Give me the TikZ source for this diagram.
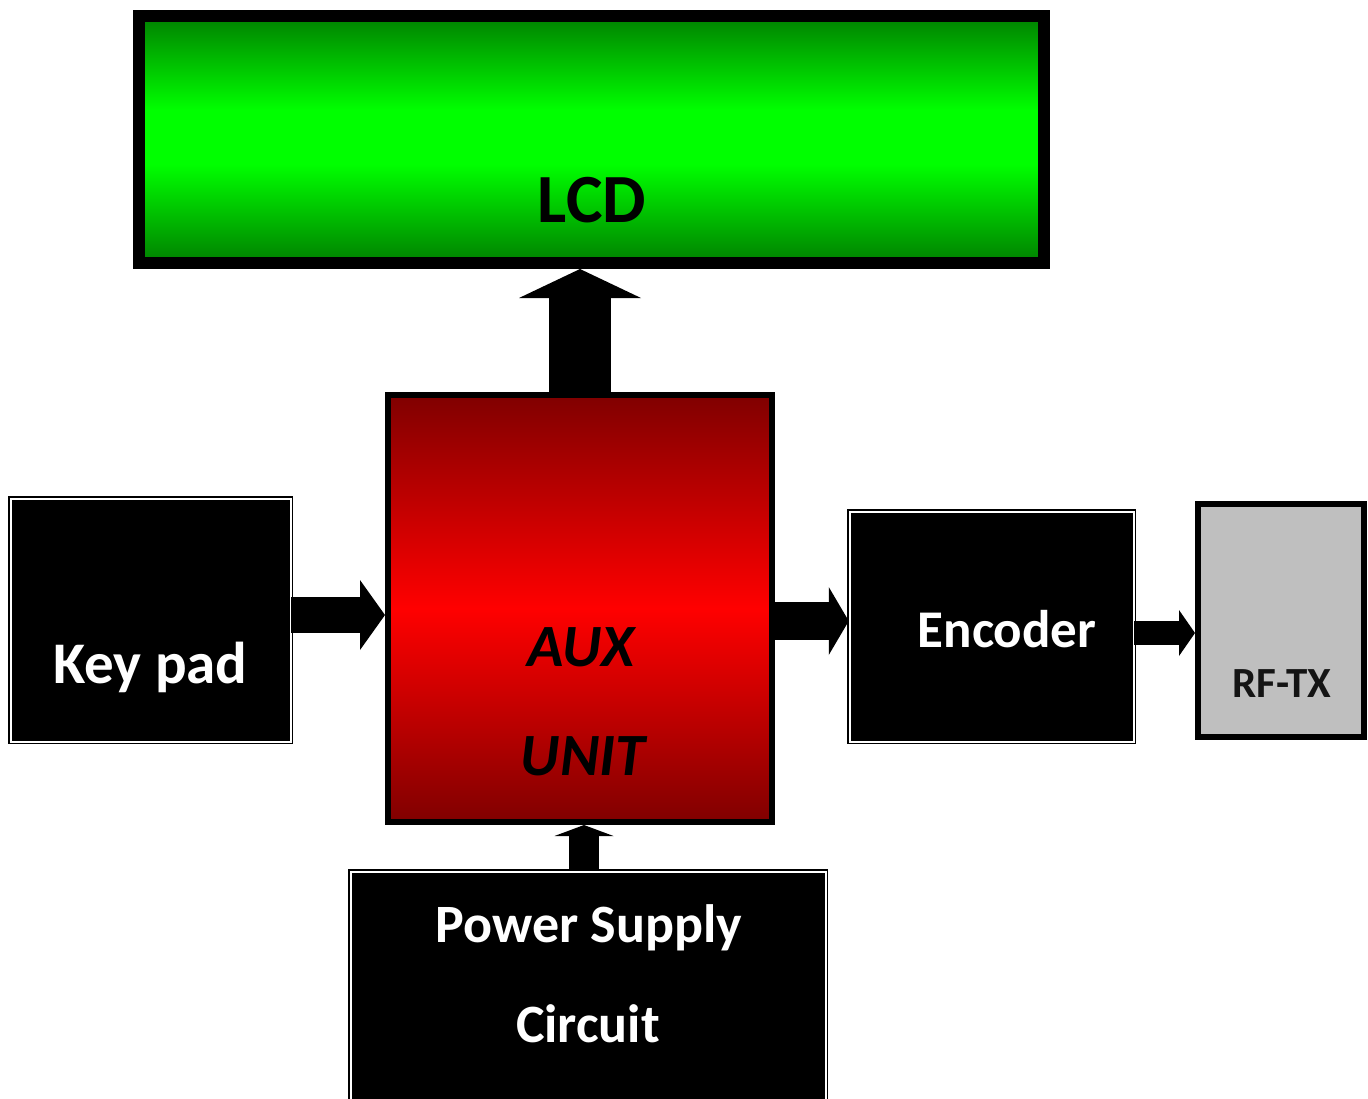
\documentclass[tikz,border=0pt]{standalone}
\usepackage{fontspec}
\setmainfont{Carlito}
\usetikzlibrary{arrows.meta}
\definecolor{dkgreen}{RGB}{0,128,0}
\definecolor{brgreen}{RGB}{0,255,0}
\definecolor{dkred}{RGB}{128,0,0}
\definecolor{brred}{RGB}{255,0,0}
\definecolor{rfgrey}{RGB}{191,191,191}
\definecolor{txtdark}{RGB}{20,20,20}
\pgfdeclareverticalshading{lcdshade}{100bp}{color(0bp)=(dkgreen); color(25bp)=(dkgreen); color(45bp)=(brgreen); color(56bp)=(brgreen); color(75bp)=(dkgreen); color(100bp)=(dkgreen)}
\tikzset{
  box/.style={rectangle, inner sep=0pt, outer sep=0.5\pgflinewidth},
  lcdbox/.style={box, draw=black, line width=12pt, shading=lcdshade},
  auxbox/.style={box, draw=black, line width=6pt, top color=dkred, bottom color=dkred, middle color=brred},
  rfbox/.style={box, draw=black, line width=6pt, fill=rfgrey},
  blackbox/.style={box, fill=black, draw=black, line width=1.5pt, double=white, double distance=2pt},
  lbl/.style={anchor=base, inner sep=0pt, font=\bfseries},
  blk/.style={draw=black, line cap=butt},
}
\begin{document}
\begin{tikzpicture}[x=1pt, y=-1pt]
\useasboundingbox (0,0) rectangle (1368,1098);
\clip (0,0) rectangle (1368,1098);
% boxes
\node[lcdbox, minimum width=905pt, minimum height=247pt] (lcd) at (591.5,139.5) {};
\node[auxbox, minimum width=384pt, minimum height=427pt] (aux) at (580,608.5) {};
\node[blackbox, minimum width=280pt, minimum height=243pt] (kp) at (150.5,620) {};
\node[blackbox, minimum width=284pt, minimum height=230pt] (enc) at (991.5,626.5) {};
\node[rfbox, minimum width=166pt, minimum height=233pt] (rf) at (1281,620.5) {};
\node[blackbox, minimum width=475pt, minimum height=250pt] (pw) at (588,996.5) {};
% arrows
\draw[blk, line width=62pt, -{Triangle[width=122pt,length=29pt,line width=0pt]}] (aux.north) -- (aux.north |- lcd.south);
\draw[blk, line width=36pt, -{Triangle[width=70pt,length=25pt,line width=0pt]}] (kp.east |- 0,615) -- (aux.west |- 0,615);
\draw[blk, line width=38pt, -{Triangle[width=68pt,length=20pt,line width=0pt]}] (aux.east |- 0,621) -- (enc.west |- 0,621);
\draw[blk, line width=24pt, -{Triangle[width=46pt,length=16pt,line width=0pt]}] (enc.east |- 0,633) -- (rf.west |- 0,633);
\draw[blk, line width=30pt, -{Triangle[width=59pt,length=11pt,line width=0pt]}] (pw.north -| 584,0) -- (aux.south -| 584,0);
% labels
\node[lbl, text=black, font=\fontsize{69}{80}\selectfont\bfseries] (tlcd) at (592,222) {LCD};
\node[lbl, text=black, font=\fontsize{60}{70}\selectfont\bfseries\itshape] (taux) at (581,666) {AUX};
\node[lbl, text=black, font=\fontsize{60}{70}\selectfont\bfseries\itshape] (tunit) at (583,775) {UNIT};
\node[lbl, text=white, font=\fontsize{59}{68}\selectfont\bfseries] (tkp) at (150.5,683) {Key pad};
\node[lbl, text=white, font=\fontsize{53}{60}\selectfont\bfseries] (tenc) at (1007,647) {Encoder};
\node[lbl, text=txtdark, font=\fontsize{43}{48}\selectfont\bfseries] (trf) at (1282,697) {RF-TX};
\node[lbl, text=white, font=\fontsize{54}{62}\selectfont\bfseries] (tpw1) at (589,942) {Power Supply};
\node[lbl, text=white, font=\fontsize{54}{62}\selectfont\bfseries] (tpw2) at (588,1042) {Circuit};
\end{tikzpicture}
\end{document}
